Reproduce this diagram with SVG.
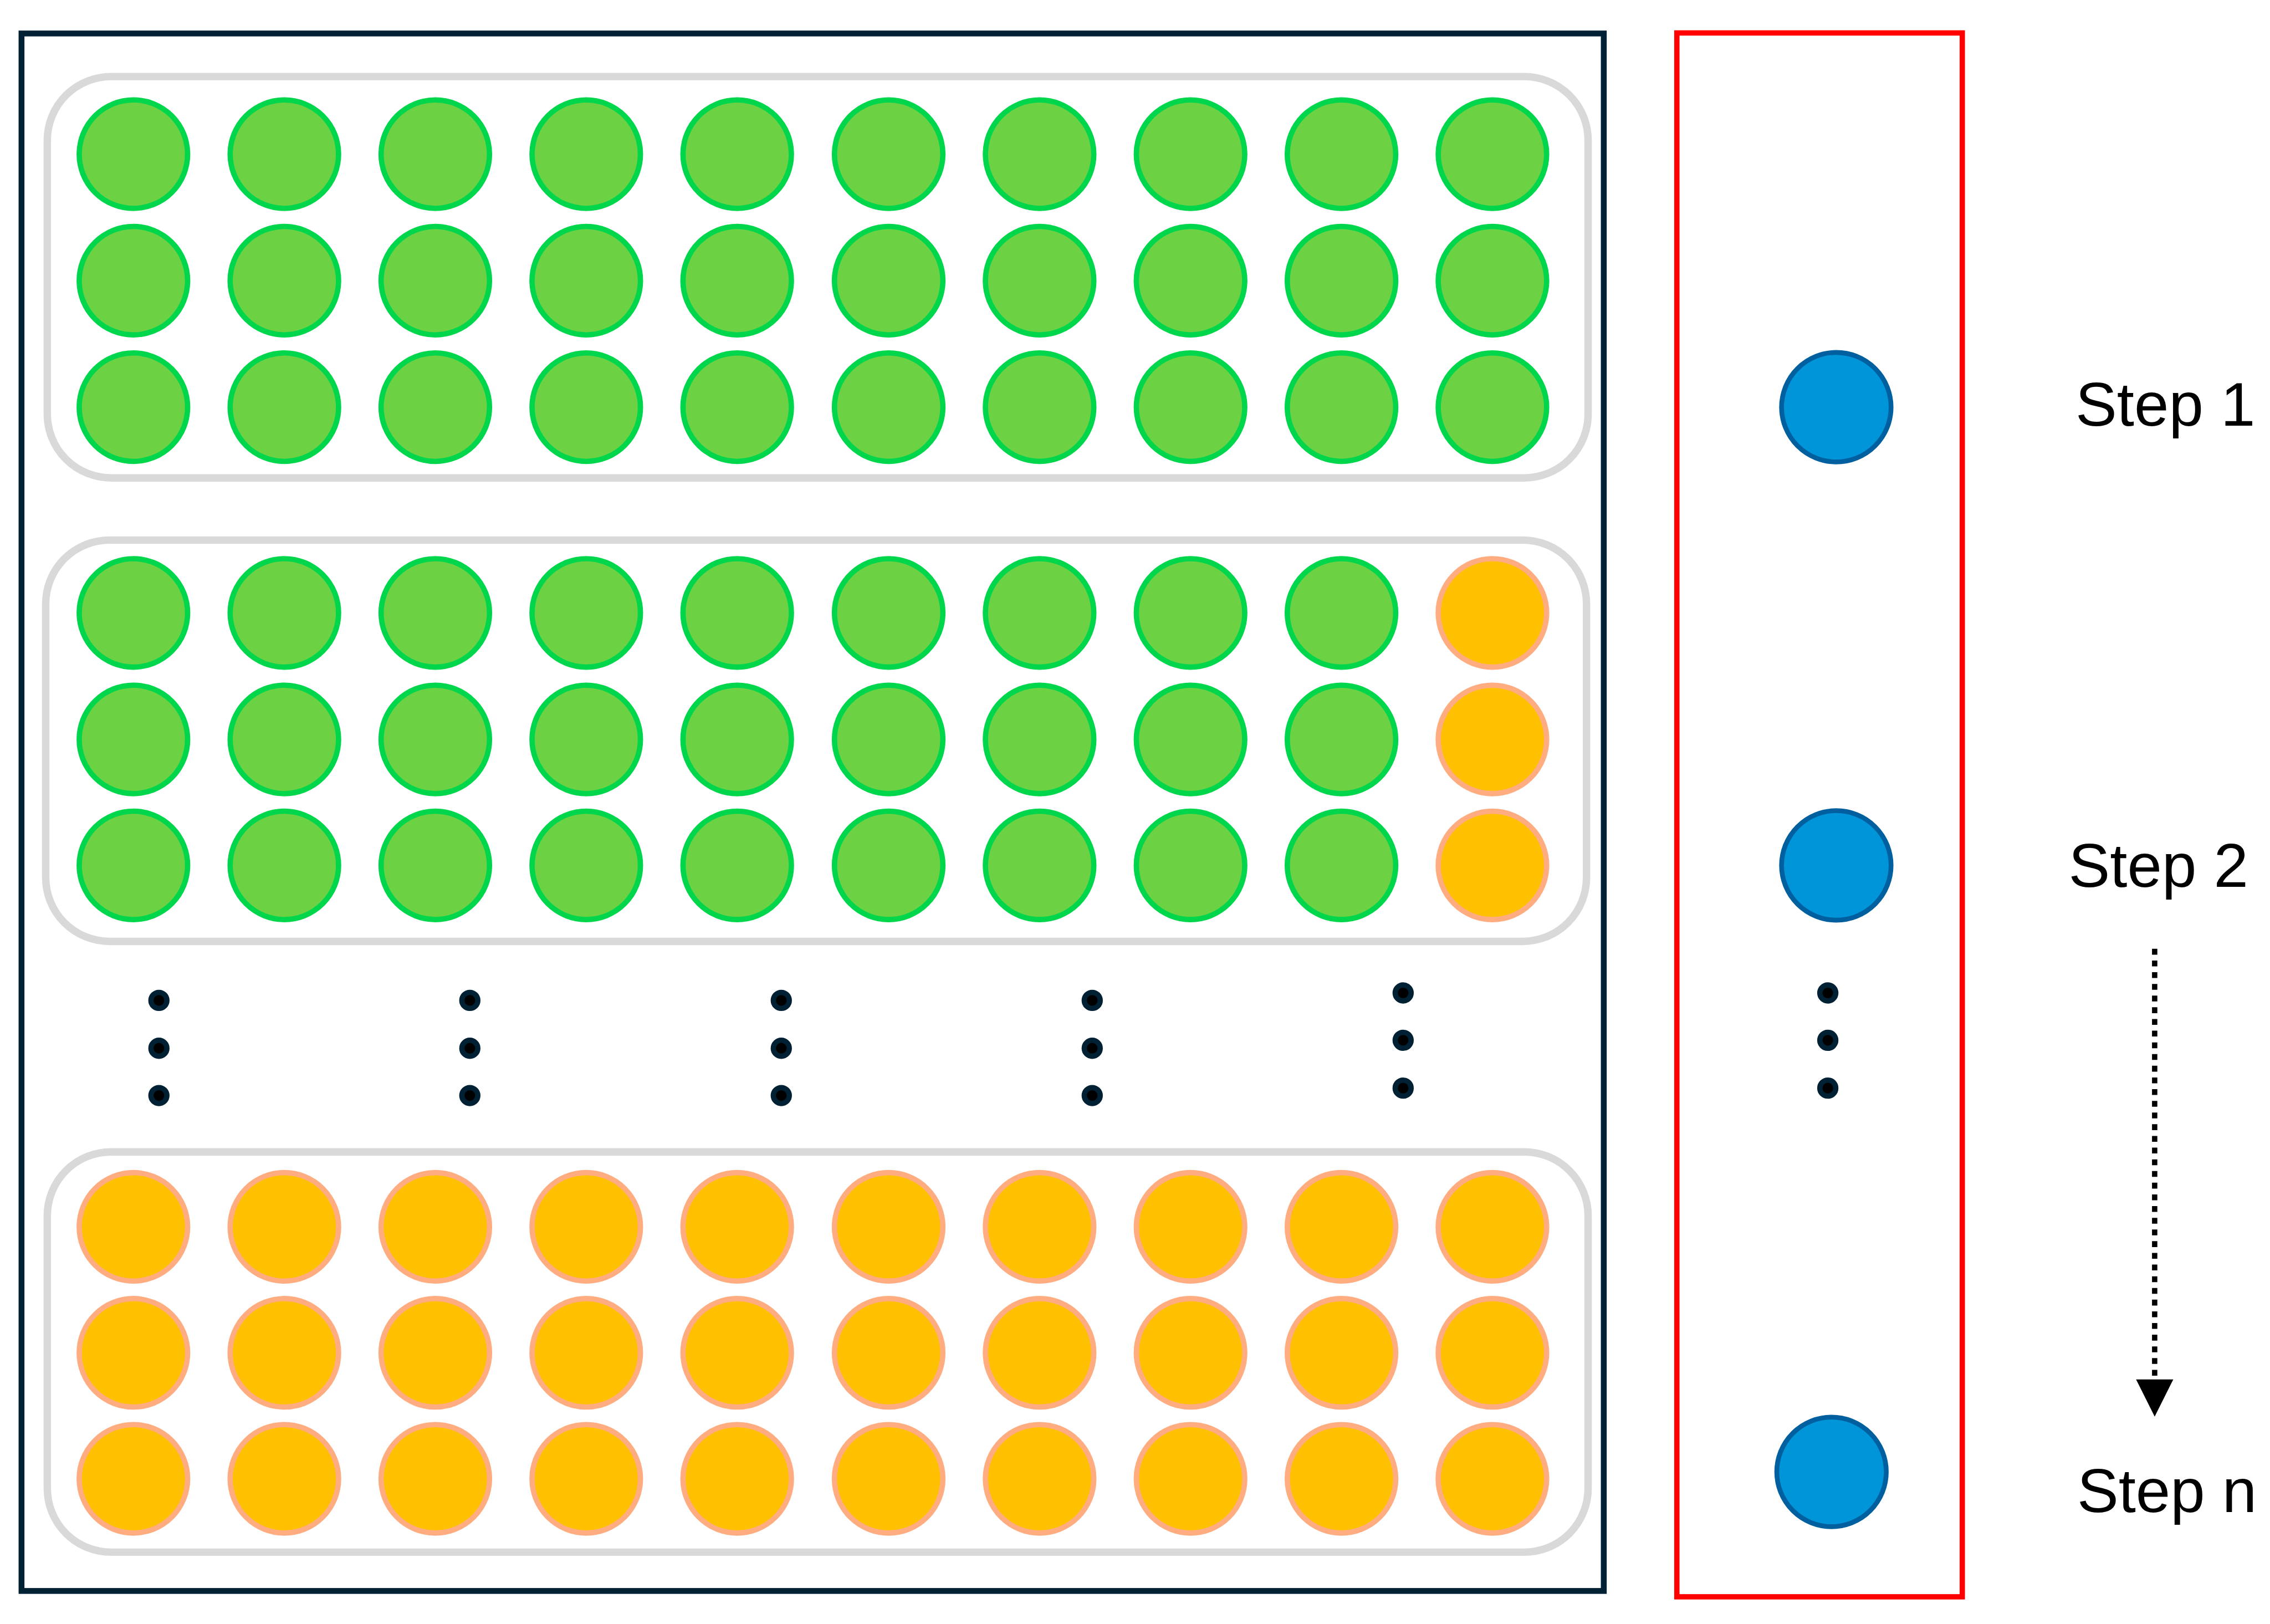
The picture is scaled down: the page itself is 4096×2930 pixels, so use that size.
<svg xmlns="http://www.w3.org/2000/svg" width="4096" height="2930" viewBox="0 0 4096 2930">
<style>
.g{fill:#6DD144;stroke:#00D64B;stroke-width:10}
.o{fill:#FFC000;stroke:#FFAD80;stroke-width:10}
.b{fill:#0095D9;stroke:#005F9E;stroke-width:9}
.d{fill:#000;stroke:#002033;stroke-width:10}
.tray{fill:none;stroke:#D9D9D9;stroke-width:14}
.lbl{font-family:"Liberation Sans",Arial,sans-serif;font-size:117px;fill:#000}
</style>
<rect width="4096" height="2930" fill="#fff"/>
<g transform="scale(0.95903)">
<g id="frame-left"><rect x="40.5" y="63" width="2977" height="2930" fill="none" stroke="#002033" stroke-width="11"/></g>
<g id="frame-right"><rect x="3155" y="62" width="537" height="2942" fill="none" stroke="#FF0000" stroke-width="10"/></g>

<g id="tray1">
<rect class="tray" x="89" y="144" width="2899" height="755" rx="120"/>
<g class="g">
<circle cx="251" cy="290" r="102"/><circle cx="535" cy="290" r="102"/><circle cx="819" cy="290" r="102"/><circle cx="1103" cy="290" r="102"/><circle cx="1387" cy="290" r="102"/><circle cx="1672" cy="290" r="102"/><circle cx="1956" cy="290" r="102"/><circle cx="2240" cy="290" r="102"/><circle cx="2524" cy="290" r="102"/><circle cx="2808" cy="290" r="102"/>
<circle cx="251" cy="528" r="102"/><circle cx="535" cy="528" r="102"/><circle cx="819" cy="528" r="102"/><circle cx="1103" cy="528" r="102"/><circle cx="1387" cy="528" r="102"/><circle cx="1672" cy="528" r="102"/><circle cx="1956" cy="528" r="102"/><circle cx="2240" cy="528" r="102"/><circle cx="2524" cy="528" r="102"/><circle cx="2808" cy="528" r="102"/>
<circle cx="251" cy="766" r="102"/><circle cx="535" cy="766" r="102"/><circle cx="819" cy="766" r="102"/><circle cx="1103" cy="766" r="102"/><circle cx="1387" cy="766" r="102"/><circle cx="1672" cy="766" r="102"/><circle cx="1956" cy="766" r="102"/><circle cx="2240" cy="766" r="102"/><circle cx="2524" cy="766" r="102"/><circle cx="2808" cy="766" r="102"/>
</g>
</g>

<g id="tray2">
<rect class="tray" x="86" y="1016" width="2899" height="755" rx="120"/>
<g class="g">
<circle cx="251" cy="1153" r="102"/><circle cx="535" cy="1153" r="102"/><circle cx="819" cy="1153" r="102"/><circle cx="1103" cy="1153" r="102"/><circle cx="1387" cy="1153" r="102"/><circle cx="1672" cy="1153" r="102"/><circle cx="1956" cy="1153" r="102"/><circle cx="2240" cy="1153" r="102"/><circle cx="2524" cy="1153" r="102"/>
<circle cx="251" cy="1391" r="102"/><circle cx="535" cy="1391" r="102"/><circle cx="819" cy="1391" r="102"/><circle cx="1103" cy="1391" r="102"/><circle cx="1387" cy="1391" r="102"/><circle cx="1672" cy="1391" r="102"/><circle cx="1956" cy="1391" r="102"/><circle cx="2240" cy="1391" r="102"/><circle cx="2524" cy="1391" r="102"/>
<circle cx="251" cy="1628" r="102"/><circle cx="535" cy="1628" r="102"/><circle cx="819" cy="1628" r="102"/><circle cx="1103" cy="1628" r="102"/><circle cx="1387" cy="1628" r="102"/><circle cx="1672" cy="1628" r="102"/><circle cx="1956" cy="1628" r="102"/><circle cx="2240" cy="1628" r="102"/><circle cx="2524" cy="1628" r="102"/>
</g>
<g class="o">
<circle cx="2808" cy="1153" r="102"/><circle cx="2808" cy="1391" r="102"/><circle cx="2808" cy="1628" r="102"/>
</g>
</g>

<g id="ellipsis-left" class="d">
<circle cx="299" cy="1882" r="15"/><circle cx="299" cy="1972" r="15"/><circle cx="299" cy="2061" r="15"/>
<circle cx="884" cy="1882" r="15"/><circle cx="884" cy="1972" r="15"/><circle cx="884" cy="2061" r="15"/>
<circle cx="1470" cy="1882" r="15"/><circle cx="1470" cy="1972" r="15"/><circle cx="1470" cy="2061" r="15"/>
<circle cx="2055" cy="1882" r="15"/><circle cx="2055" cy="1972" r="15"/><circle cx="2055" cy="2061" r="15"/>
<circle cx="2640" cy="1868" r="15"/><circle cx="2640" cy="1957" r="15"/><circle cx="2640" cy="2047" r="15"/>
</g>

<g id="tray3">
<rect class="tray" x="89" y="2167" width="2899" height="753" rx="120"/>
<g class="o">
<circle cx="251" cy="2308" r="102"/><circle cx="535" cy="2308" r="102"/><circle cx="819" cy="2308" r="102"/><circle cx="1103" cy="2308" r="102"/><circle cx="1387" cy="2308" r="102"/><circle cx="1672" cy="2308" r="102"/><circle cx="1956" cy="2308" r="102"/><circle cx="2240" cy="2308" r="102"/><circle cx="2524" cy="2308" r="102"/><circle cx="2808" cy="2308" r="102"/>
<circle cx="251" cy="2545" r="102"/><circle cx="535" cy="2545" r="102"/><circle cx="819" cy="2545" r="102"/><circle cx="1103" cy="2545" r="102"/><circle cx="1387" cy="2545" r="102"/><circle cx="1672" cy="2545" r="102"/><circle cx="1956" cy="2545" r="102"/><circle cx="2240" cy="2545" r="102"/><circle cx="2524" cy="2545" r="102"/><circle cx="2808" cy="2545" r="102"/>
<circle cx="251" cy="2782" r="102"/><circle cx="535" cy="2782" r="102"/><circle cx="819" cy="2782" r="102"/><circle cx="1103" cy="2782" r="102"/><circle cx="1387" cy="2782" r="102"/><circle cx="1672" cy="2782" r="102"/><circle cx="1956" cy="2782" r="102"/><circle cx="2240" cy="2782" r="102"/><circle cx="2524" cy="2782" r="102"/><circle cx="2808" cy="2782" r="102"/>
</g>
</g>

<g id="step1"><circle class="b" cx="3455" cy="766" r="103"/></g>
<g id="step2"><circle class="b" cx="3455" cy="1628" r="103"/></g>
<g id="ellipsis-right" class="d">
<circle cx="3439" cy="1868" r="15"/><circle cx="3439" cy="1957" r="15"/><circle cx="3439" cy="2047" r="15"/>
</g>
<g id="stepn"><circle class="b" cx="3446" cy="2769" r="103"/></g>

<g id="labels">
<text class="lbl" x="3905" y="801">Step 1</text>
<text class="lbl" x="3892" y="1668">Step 2</text>
<text class="lbl" x="3908" y="2845">Step n</text>
</g>

<g id="connectors">
<line x1="4054" y1="1785" x2="4054" y2="2597" stroke="#000" stroke-width="10" stroke-dasharray="11 11"/>
<polygon points="4019,2595 4089,2595 4054,2665" fill="#000"/>
</g>
</g>
</svg>
